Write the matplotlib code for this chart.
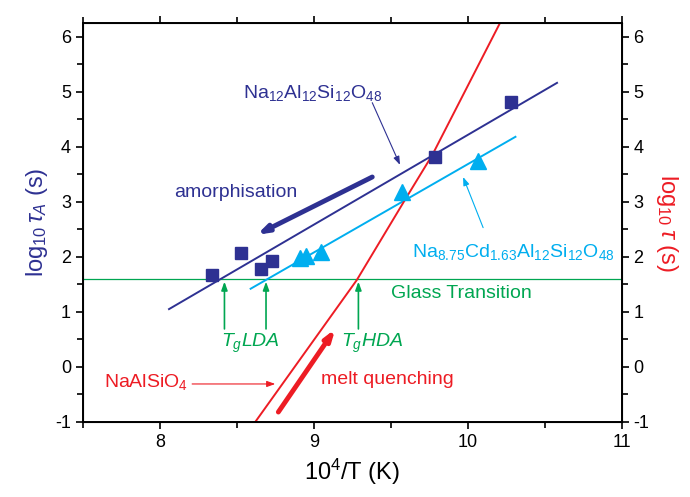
import matplotlib
matplotlib.use("Agg")
import matplotlib.pyplot as plt
from matplotlib.ticker import MultipleLocator

plt.rcParams["font.family"] = ["Liberation Sans", "DejaVu Sans"]
plt.rcParams["mathtext.fontset"] = "custom"
plt.rcParams["mathtext.rm"] = "Liberation Sans"
plt.rcParams["mathtext.it"] = "Liberation Sans:italic"
plt.rcParams["mathtext.default"] = "it"
plt.rcParams["axes.unicode_minus"] = False

NAVY = "#2e3192"
CYAN = "#00aeef"
RED = "#ed1c24"
GREEN = "#00a651"

# Na12Al12Si12O48 (squares) and its fit
sq_x = [8.34, 8.53, 8.66, 8.73, 9.79, 10.28]
sq_y = [1.67, 2.07, 1.78, 1.93, 3.82, 4.82]
sq_fit_x = [8.06, 10.58]
sq_fit_y = [1.05, 5.16]

# Na8.75Cd1.63Al12Si12O48 (triangles) and its fit
tri_x = [8.91, 8.95, 9.05, 9.57, 10.07]
tri_y = [1.98, 2.02, 2.08, 3.18, 3.74]
tri_fit_x = [8.59, 10.31]
tri_fit_y = [1.42, 4.18]

# NaAlSiO4 melt curve
melt_x = [8.62, 9.28, 9.60, 9.77, 10.21]
melt_y = [-1.0, 1.58, 3.07, 3.85, 6.25]

glass_y = 1.6
tg_x = [8.42, 8.69, 9.29]

fig = plt.figure(figsize=(6.9, 4.97), dpi=100)
ax = fig.add_axes([0.120, 0.151, 0.781, 0.803])

ax.axhline(glass_y, color=GREEN, lw=0.9)
ax.plot(sq_fit_x, sq_fit_y, color=NAVY, lw=1.4)
ax.plot(tri_fit_x, tri_fit_y, color=CYAN, lw=1.4)
ax.plot(melt_x, melt_y, color=RED, lw=1.4)
ax.plot(sq_x, sq_y, "s", color=NAVY, ms=9, mec=NAVY)
ax.plot(tri_x, tri_y, "^", color=CYAN, ms=11, mec=CYAN)


def arrow(x0, y0, x1, y1, color, lw, head=None):
    props = {"arrowstyle": head or "-|>,head_length=0.5,head_width=0.18",
             "color": color, "lw": lw, "shrinkA": 0, "shrinkB": 0}
    ax.annotate("", xy=(x1, y1), xytext=(x0, y0), arrowprops=props)


# thin pointer arrows
arrow(9.38, 4.80, 9.56, 3.67, NAVY, 0.8)
arrow(10.10, 2.53, 9.97, 3.45, CYAN, 0.8)
arrow(8.21, -0.31, 8.75, -0.31, RED, 0.8)
for tx in tg_x:
    arrow(tx, 0.69, tx, 1.55, GREEN, 1.2)

# thick process arrows
thick = "-|>,head_length=0.6,head_width=0.2"
arrow(9.38, 3.45, 8.63, 2.40, NAVY, 3.5, thick)
arrow(8.77, -0.82, 9.14, 0.69, RED, 3.5, thick)

ax.text(8.54, 4.98, r"Na$_{\rm 12}$Al$_{\rm 12}$Si$_{\rm 12}$O$_{\rm 48}$",
        color=NAVY, fontsize=14, va="center")
ax.text(8.09, 3.16, "amorphisation", color=NAVY, fontsize=14, va="center")
ax.text(9.64, 2.09,
        r"Na$_{\rm 8.75}$Cd$_{\rm 1.63}$Al$_{\rm 12}$Si$_{\rm 12}$O$_{\rm 48}$",
        color=CYAN, fontsize=14, va="center")
ax.text(9.50, 1.33, "Glass Transition", color=GREEN, fontsize=14, va="center")
ax.text(8.40, 0.42, r"$T_gLDA$", color=GREEN, fontsize=14, va="center")
ax.text(9.18, 0.42, r"$T_gHDA$", color=GREEN, fontsize=14, va="center")
ax.text(7.64, -0.28, r"NaAlSiO$_{\rm 4}$", color=RED, fontsize=14, va="center")
ax.text(9.05, -0.22, "melt quenching", color=RED, fontsize=14, va="center")

ax.set_xlim(7.5, 11)
ax.set_ylim(-1, 6.25)
ax.xaxis.set_major_locator(MultipleLocator(1))
ax.xaxis.set_minor_locator(MultipleLocator(0.5))
ax.yaxis.set_major_locator(MultipleLocator(1))
ax.yaxis.set_minor_locator(MultipleLocator(0.5))
ax.tick_params(which="both", direction="out", top=True, labelsize=13, width=1.2)
ax.tick_params(which="major", length=5)
ax.tick_params(which="minor", length=4)
for s in ax.spines.values():
    s.set_linewidth(1.4)

ax.set_xlabel(r"10$^{\rm 4}$/T (K)", fontsize=17)
ax.set_ylabel(r"log$_{\rm 10}\,\tau_{A}$ (s)", fontsize=17, color=NAVY)

ax2 = ax.twinx()
ax2.set_ylim(-1, 6.25)
ax2.yaxis.set_major_locator(MultipleLocator(1))
ax2.yaxis.set_minor_locator(MultipleLocator(0.5))
ax2.tick_params(which="both", direction="out", labelsize=13, width=1.2)
ax2.tick_params(which="major", length=5)
ax2.tick_params(which="minor", length=4)
ax2.set_ylabel(r"log$_{\rm 10}\,\tau$ (s)", fontsize=17, color=RED,
               rotation=270, labelpad=22)

fig.savefig("out.png", dpi=100, facecolor="white")
